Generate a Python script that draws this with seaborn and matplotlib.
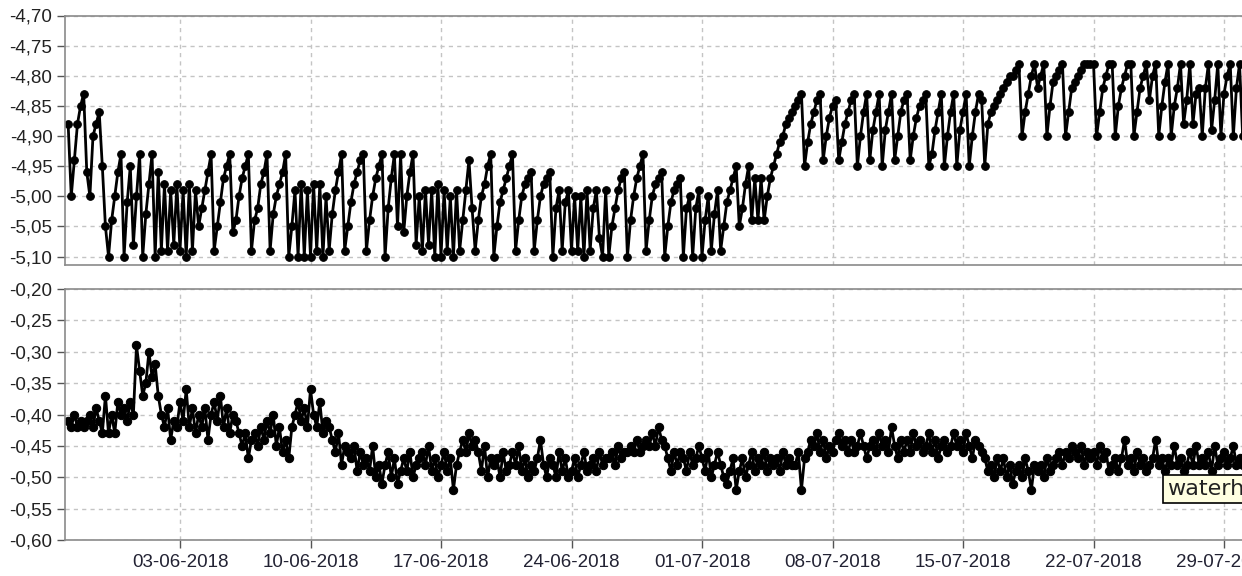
import matplotlib
matplotlib.use("Agg")
import matplotlib.pyplot as plt
import matplotlib.dates as mdates
from matplotlib.ticker import FuncFormatter
import numpy as np
import pandas as pd
import seaborn as sns

# ---------------- data (4-hourly readings, 28-05-2018 .. 30-07-2018) ----------------
start_time = "2018-05-28 00:00"
step = "4h"

upper_values = [
    -4.88, -5.00, -4.94, -4.88, -4.85, -4.83,
    -4.96, -5.00, -4.90, -4.88, -4.86, -4.95,
    -5.05, -5.10, -5.04, -5.00, -4.96, -4.93,
    -5.10, -5.01, -4.95, -5.08, -5.00, -4.93,
    -5.10, -5.03, -4.98, -4.93, -5.10, -4.96,
    -5.09, -4.98, -5.09, -4.99, -5.08, -4.98,
    -5.09, -4.99, -5.10, -4.98, -5.09, -4.99,
    -5.05, -5.02, -4.99, -4.96, -4.93, -5.09,
    -5.05, -5.01, -4.97, -4.95, -4.93, -5.06,
    -5.04, -5.00, -4.97, -4.95, -4.93, -5.09,
    -5.04, -5.02, -4.98, -4.96, -4.93, -5.09,
    -5.03, -5.00, -4.98, -4.96, -4.93, -5.10,
    -5.05, -4.99, -5.10, -4.98, -5.10, -4.99,
    -5.10, -4.98, -5.09, -4.98, -5.10, -5.00,
    -5.09, -5.03, -4.99, -4.96, -4.93, -5.09,
    -5.05, -5.01, -4.98, -4.96, -4.94, -4.93,
    -5.09, -5.04, -5.00, -4.97, -4.95, -4.93,
    -5.10, -5.02, -4.97, -4.93, -5.05, -4.93,
    -5.06, -5.00, -4.96, -4.93, -5.08, -5.00,
    -5.09, -4.99, -5.08, -4.99, -5.10, -4.98,
    -5.10, -4.99, -5.09, -5.00, -5.10, -4.99,
    -5.09, -5.04, -4.99, -4.94, -5.02, -5.09,
    -5.04, -5.00, -4.98, -4.95, -4.93, -5.10,
    -5.05, -5.01, -4.99, -4.97, -4.95, -4.93,
    -5.09, -5.04, -5.00, -4.98, -4.97, -4.96,
    -5.09, -5.04, -5.00, -4.98, -4.97, -4.96,
    -5.10, -5.02, -4.99, -5.09, -5.01, -4.99,
    -5.09, -5.00, -5.09, -5.00, -5.10, -4.99,
    -5.09, -5.02, -4.99, -5.07, -5.10, -4.99,
    -5.10, -5.05, -5.02, -4.99, -4.97, -4.96,
    -5.10, -5.04, -5.00, -4.97, -4.95, -4.93,
    -5.09, -5.04, -5.00, -4.98, -4.97, -4.96,
    -5.10, -5.05, -5.01, -4.99, -4.98, -4.97,
    -5.10, -5.02, -5.00, -5.10, -5.02, -4.99,
    -5.10, -5.04, -5.00, -5.09, -5.03, -4.99,
    -5.09, -5.05, -5.01, -4.99, -4.97, -4.95,
    -5.05, -5.02, -4.98, -4.95, -5.04, -4.97,
    -5.04, -4.97, -5.04, -5.00, -4.97, -4.95,
    -4.93, -4.91, -4.90, -4.88, -4.87, -4.86,
    -4.85, -4.84, -4.83, -4.95, -4.91, -4.88,
    -4.86, -4.84, -4.83, -4.94, -4.90, -4.87,
    -4.85, -4.84, -4.94, -4.91, -4.88, -4.86,
    -4.84, -4.83, -4.95, -4.90, -4.86, -4.83,
    -4.94, -4.89, -4.86, -4.83, -4.95, -4.89,
    -4.86, -4.83, -4.94, -4.90, -4.86, -4.84,
    -4.83, -4.94, -4.90, -4.87, -4.85, -4.84,
    -4.83, -4.95, -4.93, -4.89, -4.86, -4.83,
    -4.95, -4.90, -4.86, -4.83, -4.95, -4.89,
    -4.86, -4.83, -4.95, -4.90, -4.86, -4.83,
    -4.84, -4.95, -4.88, -4.86, -4.85, -4.84,
    -4.83, -4.82, -4.81, -4.80, -4.80, -4.79,
    -4.78, -4.90, -4.86, -4.83, -4.80, -4.78,
    -4.82, -4.80, -4.78, -4.90, -4.85, -4.81,
    -4.80, -4.79, -4.78, -4.90, -4.86, -4.82,
    -4.81, -4.80, -4.79, -4.78, -4.78, -4.78,
    -4.78, -4.90, -4.86, -4.82, -4.80, -4.78,
    -4.78, -4.90, -4.85, -4.82, -4.80, -4.78,
    -4.78, -4.90, -4.86, -4.82, -4.80, -4.78,
    -4.84, -4.80, -4.78, -4.90, -4.85, -4.81,
    -4.78, -4.90, -4.85, -4.82, -4.78, -4.88,
    -4.84, -4.78, -4.88, -4.83, -4.82, -4.90,
    -4.82, -4.78, -4.89, -4.84, -4.78, -4.90,
    -4.83, -4.80, -4.78, -4.90, -4.82, -4.78,
    -4.90, -4.84, -4.80, -4.78, -4.90, -4.82,
]

lower_values = [
    -0.41, -0.42, -0.40, -0.42, -0.41, -0.42,
    -0.41, -0.40, -0.42, -0.39, -0.41, -0.43,
    -0.37, -0.43, -0.40, -0.43, -0.38, -0.40,
    -0.39, -0.41, -0.38, -0.40, -0.29, -0.33,
    -0.37, -0.35, -0.30, -0.34, -0.32, -0.37,
    -0.40, -0.42, -0.39, -0.44, -0.41, -0.42,
    -0.38, -0.41, -0.36, -0.42, -0.39, -0.43,
    -0.40, -0.42, -0.39, -0.44, -0.40, -0.38,
    -0.41, -0.37, -0.42, -0.39, -0.43, -0.40,
    -0.41, -0.43, -0.45, -0.43, -0.47, -0.44,
    -0.43, -0.45, -0.42, -0.44, -0.41, -0.43,
    -0.40, -0.45, -0.42, -0.46, -0.44, -0.47,
    -0.42, -0.40, -0.38, -0.41, -0.39, -0.42,
    -0.36, -0.40, -0.42, -0.38, -0.43, -0.41,
    -0.42, -0.44, -0.46, -0.43, -0.48, -0.45,
    -0.46, -0.47, -0.45, -0.49, -0.46, -0.48,
    -0.47, -0.49, -0.45, -0.50, -0.48, -0.51,
    -0.48, -0.46, -0.50, -0.47, -0.51, -0.49,
    -0.47, -0.49, -0.46, -0.50, -0.48, -0.47,
    -0.46, -0.48, -0.45, -0.49, -0.47, -0.50,
    -0.48, -0.46, -0.49, -0.47, -0.52, -0.48,
    -0.46, -0.44, -0.46, -0.43, -0.45, -0.44,
    -0.46, -0.49, -0.45, -0.50, -0.47, -0.48,
    -0.47, -0.50, -0.46, -0.49, -0.48, -0.46,
    -0.48, -0.45, -0.49, -0.47, -0.50, -0.48,
    -0.49, -0.47, -0.44, -0.48, -0.50, -0.47,
    -0.48, -0.50, -0.46, -0.49, -0.47, -0.50,
    -0.49, -0.47, -0.50, -0.48, -0.46, -0.49,
    -0.48, -0.47, -0.49, -0.46, -0.48, -0.47,
    -0.47, -0.46, -0.48, -0.45, -0.47, -0.46,
    -0.46, -0.45, -0.46, -0.44, -0.46, -0.45,
    -0.44, -0.45, -0.43, -0.45, -0.42, -0.44,
    -0.45, -0.47, -0.49, -0.46, -0.48, -0.46,
    -0.47, -0.49, -0.46, -0.48, -0.47, -0.45,
    -0.47, -0.49, -0.46, -0.50, -0.48, -0.46,
    -0.48, -0.50, -0.51, -0.49, -0.47, -0.52,
    -0.49, -0.47, -0.50, -0.48, -0.46, -0.49,
    -0.47, -0.48, -0.46, -0.49, -0.47, -0.48,
    -0.47, -0.49, -0.46, -0.48, -0.47, -0.48,
    -0.48, -0.46, -0.52, -0.47, -0.46, -0.44,
    -0.45, -0.43, -0.46, -0.44, -0.47, -0.45,
    -0.46, -0.44, -0.43, -0.45, -0.44, -0.46,
    -0.44, -0.46, -0.45, -0.43, -0.45, -0.47,
    -0.45, -0.44, -0.46, -0.43, -0.45, -0.44,
    -0.46, -0.42, -0.45, -0.47, -0.44, -0.46,
    -0.44, -0.46, -0.43, -0.45, -0.44, -0.46,
    -0.45, -0.43, -0.46, -0.44, -0.47, -0.45,
    -0.44, -0.46, -0.45, -0.43, -0.45, -0.44,
    -0.46, -0.43, -0.45, -0.47, -0.44, -0.45,
    -0.46, -0.47, -0.49, -0.48, -0.50, -0.47,
    -0.49, -0.47, -0.50, -0.48, -0.51, -0.49,
    -0.48, -0.50, -0.47, -0.49, -0.52, -0.48,
    -0.49, -0.48, -0.50, -0.47, -0.49, -0.48,
    -0.47, -0.46, -0.48, -0.46, -0.47, -0.45,
    -0.46, -0.47, -0.45, -0.48, -0.46, -0.47,
    -0.46, -0.48, -0.45, -0.47, -0.46, -0.49,
    -0.48, -0.47, -0.49, -0.47, -0.44, -0.48,
    -0.47, -0.49, -0.46, -0.48, -0.47, -0.49,
    -0.48, -0.47, -0.44, -0.48, -0.47, -0.49,
    -0.47, -0.48, -0.45, -0.48, -0.47, -0.49,
    -0.48, -0.46, -0.48, -0.45, -0.48, -0.47,
    -0.48, -0.46, -0.49, -0.45, -0.48, -0.47,
    -0.46, -0.48, -0.47, -0.45, -0.48, -0.47,
    -0.48, -0.47, -0.46, -0.48, -0.47, -0.46,
]

upper_yticks = [-4.70, -4.75, -4.80, -4.85, -4.90, -4.95, -5.00, -5.05, -5.10]
lower_yticks = [-0.20, -0.25, -0.30, -0.35, -0.40, -0.45, -0.50, -0.55, -0.60]
tooltip_text = "waterh"

timestamps = pd.date_range(start_time, periods=len(upper_values), freq=step)
df_up = pd.DataFrame({"time": timestamps, "value": upper_values})
df_lo = pd.DataFrame({"time": timestamps[:len(lower_values)], "value": lower_values})

# ---------------- styling ----------------
sns.set_style("white")
plt.rcParams["font.family"] = ["Liberation Sans", "DejaVu Sans"]

W, H = 1242, 576
fig = plt.figure(figsize=(W / 100, H / 100), dpi=100)

left_px, right_px = 65, 1262
ax_up = fig.add_axes([left_px / W, 1 - 265 / H, (right_px - left_px) / W, (265 - 15.5) / H])
ax_lo = fig.add_axes([left_px / W, 1 - 540 / H, (right_px - left_px) / W, (540 - 289) / H])

ref = mdates.date2num(pd.Timestamp("2018-06-03"))
px_per_day = 18.643
xlim = (ref - (180 - left_px) / px_per_day, ref + (right_px - 180) / px_per_day)

comma_fmt = FuncFormatter(lambda v, p: f"{v:.2f}".replace(".", ","))

for ax, df, yt, ylim, ms in [
    (ax_up, df_up, upper_yticks, (-5.114, -4.70), 5.5),
    (ax_lo, df_lo, lower_yticks, (-0.60, -0.20), 6.0),
]:
    sns.lineplot(data=df, x="time", y="value", ax=ax, color="black",
                 linewidth=2.0, marker="o", markersize=ms,
                 markeredgecolor="black", markerfacecolor="black",
                 estimator=None, legend=False)
    ax.set_xlim(xlim)
    ax.set_ylim(ylim)
    ax.set_yticks(yt)
    ax.yaxis.set_major_formatter(comma_fmt)
    ax.xaxis.set_major_locator(mdates.WeekdayLocator(byweekday=mdates.SU))
    ax.xaxis.set_major_formatter(mdates.DateFormatter("%d-%m-%Y"))
    ax.grid(True, color="#c4c4c4", linestyle=(0, (3, 3)), linewidth=1.0)
    ax.set_xlabel("")
    ax.set_ylabel("")
    for side in ["left", "top", "bottom", "right"]:
        ax.spines[side].set_color("#8a8a8a")
        ax.spines[side].set_linewidth(1.2)
    ax.tick_params(axis="y", which="major", length=6, width=1, color="#555555",
                   labelsize=13.5, pad=3, left=True, labelcolor="#222222")
    ax.tick_params(axis="x", which="major", length=6, width=1, color="#555555",
                   labelsize=13.5, pad=4, bottom=True, labelcolor="#222233")

ax_up.tick_params(axis="x", labelbottom=False, bottom=False)

# tooltip box partly cut at the right edge
fig.text(1167 / W, 1 - 489 / H, tooltip_text, ha="left", va="center",
         fontsize=16, family="DejaVu Sans", color="#222222",
         bbox=dict(boxstyle="square,pad=0.2", facecolor="#ffffe1",
                   edgecolor="black", linewidth=1.2))

fig.savefig("out.png", dpi=100)
